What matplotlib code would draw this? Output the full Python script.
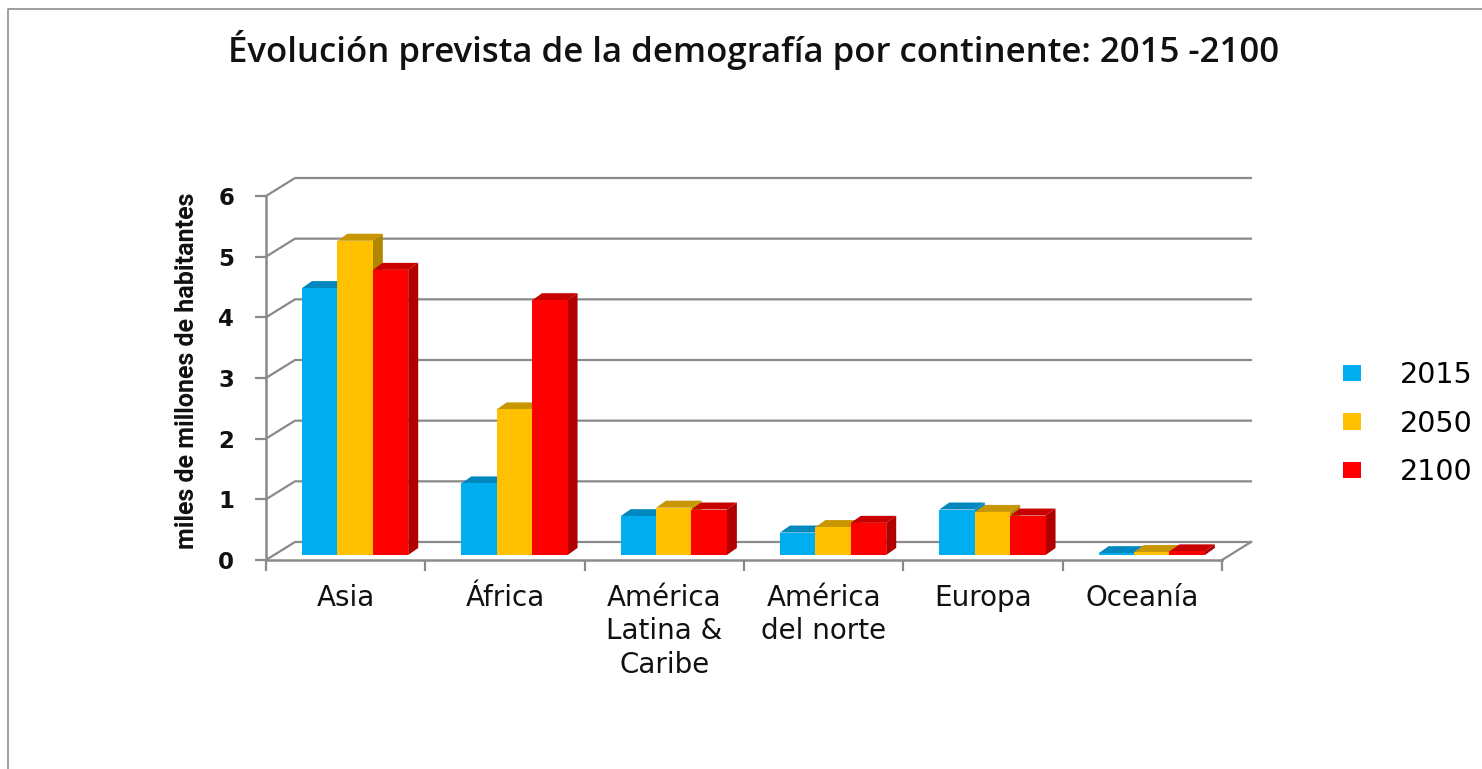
import matplotlib
matplotlib.use("Agg")
import matplotlib.pyplot as plt
from matplotlib.lines import Line2D
from matplotlib.patches import Patch

# ---------- Data ----------
categories = ["Asia", "África", "América\nLatina &\nCaribe", "América\ndel norte", "Europa", "Oceanía"]
series_names = ["2015", "2050", "2100"]
values_2015 = [4.4, 1.18, 0.64, 0.37, 0.75, 0.03]
values_2050 = [5.18, 2.4, 0.78, 0.46, 0.71, 0.05]
values_2100 = [4.7, 4.2, 0.75, 0.53, 0.65, 0.06]
y_ticks = [0, 1, 2, 3, 4, 5, 6]

# ---------- Style ----------
W, H = 1482, 769
LEFT, RIGHT, TOP, BOTTOM = 266, 1222, 196, 560
px_x = 6 / (RIGHT - LEFT)  # data units per pixel
px_y = 6 / (BOTTOM - TOP)

GRID = "#8a8a8a"
front_cols = ["#00AEEF", "#FFC000", "#FF0000"]
top_cols = ["#0088BE", "#C79600", "#C90000"]
side_cols = ["#0088BE", "#B08600", "#B00000"]

wall_dx, wall_dy = 29 * px_x, 18 * px_y
bar_dx, bar_dy = 10 * px_x, 7 * px_y
floor = 5 * px_y
bar_w = 35.4 * px_x
first_bar = 36 * px_x

fig = plt.figure(figsize=(W / 100, H / 100), dpi=100, facecolor="white")
ax = fig.add_axes([LEFT / W, 1 - BOTTOM / H, (RIGHT - LEFT) / W, (BOTTOM - TOP) / H])
ax.set_xlim(0, 6)
ax.set_ylim(0, 6)
ax.patch.set_visible(False)

# ---------- Back wall and floor lines ----------
for t in y_ticks:
    ax.plot([0, wall_dx, 6 + wall_dx], [t, t + wall_dy, t + wall_dy], color=GRID, lw=1.6, clip_on=False, zorder=1)
ax.plot([6, 6 + wall_dx], [0, wall_dy], color=GRID, lw=1.6, clip_on=False, zorder=1)

# ---------- Bars, painted left to right ----------
z = 2
for c in range(len(categories)):
    for s, vals in enumerate([values_2015, values_2050, values_2100]):
        x0 = c + first_bar + s * bar_w
        x1 = x0 + bar_w
        y1 = floor + vals[c]
        ax.fill([x1, x1 + bar_dx, x1 + bar_dx, x1], [floor, floor + bar_dy, y1 + bar_dy, y1],
                color=side_cols[s], lw=0, clip_on=False, zorder=z)
        ax.fill([x0, x0 + bar_dx, x1 + bar_dx, x1], [y1, y1 + bar_dy, y1 + bar_dy, y1],
                color=top_cols[s], lw=0, clip_on=False, zorder=z)
        ax.bar(x0, vals[c], bar_w, bottom=floor, align="edge", color=front_cols[s], lw=0, clip_on=False, zorder=z + 1)
        z += 2

# ---------- Axes ----------
for side in ["top", "right"]:
    ax.spines[side].set_visible(False)
for side in ["left", "bottom"]:
    ax.spines[side].set_color(GRID)
    ax.spines[side].set_linewidth(1.8)
    ax.spines[side].set_zorder(z + 1)

ax.set_yticks(y_ticks)
ax.tick_params(axis="y", length=8, width=1.6, color=GRID, pad=15, labelsize=16.5, labelcolor="#111111")
for lab in ax.get_yticklabels():
    lab.set_fontweight("bold")

ax.set_xticks(range(7))
ax.set_xticklabels([])
ax.tick_params(axis="x", which="major", length=8, width=1.6, color=GRID)
ax.set_xticks([c + 0.5 for c in range(len(categories))], minor=True)
ax.set_xticklabels(categories, minor=True, fontsize=20, color="#111111", linespacing=1.25)
ax.tick_params(axis="x", which="minor", length=0, pad=17)

ax.set_ylabel("miles de millones de habitantes", family="Roboto", fontsize=18, fontweight="bold", color="#111111")
ax.yaxis.set_label_coords(199 / W, 1 - 371 / H, transform=fig.transFigure)

fig.text(754 / W, 1 - 50 / H, "Évolución prevista de la demografía por continente: 2015 -2100",
         family="Open Sans", fontsize=25, fontweight="semibold", color="#111111", ha="center", va="center")

# ---------- Legend ----------
handles = [Patch(facecolor=col, edgecolor="none") for col in front_cols]
fig.legend(handles, series_names, frameon=False, prop={"size": 20.5}, loc="center left",
           bbox_to_anchor=(1343 / W, 1 - 423.5 / H), handlelength=0.63, handleheight=0.5,
           handletextpad=1.37, labelspacing=0.72, borderpad=0, borderaxespad=0)

# ---------- Picture frame ----------
fig.add_artist(Line2D([8 / W, 8 / W, 1], [0, 1 - 9 / H, 1 - 9 / H], color="#8f8f8f", lw=1.2))

plt.savefig("out.png", dpi=100)
